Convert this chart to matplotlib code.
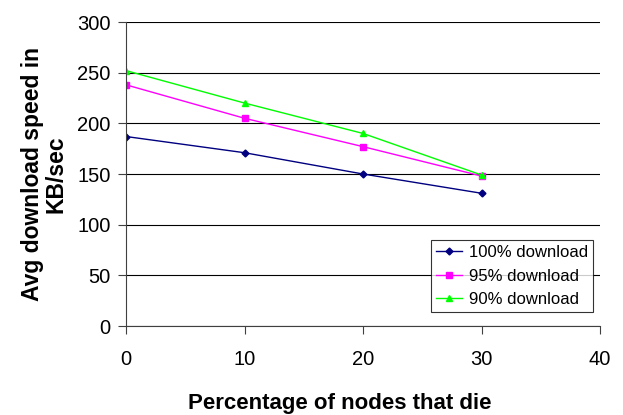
import matplotlib.pyplot as plt

plt.rcParams["font.family"] = ["Liberation Sans", "DejaVu Sans"]

pct_die = [0, 10, 20, 30]
speed_100 = [187, 171, 150, 131]
speed_95 = [238, 205, 177, 148]
speed_90 = [252, 220, 190, 149]
series_labels = ["100% download", "95% download", "90% download"]

fig = plt.figure(figsize=(6.23, 4.15), dpi=100)
ax = fig.add_axes([126 / 623, 1 - 326 / 415, (600 - 126) / 623, (326 - 22) / 415])

ax.plot(pct_die, speed_100, color="#000080", marker="D", markersize=3.5, lw=1, label=series_labels[0])
ax.plot(pct_die, speed_95, color="#ff00ff", marker="s", markersize=4.5, lw=1, label=series_labels[1])
ax.plot(pct_die, speed_90, color="#00ff00", marker="^", markersize=5, lw=1, label=series_labels[2])

ax.set_xlim(0, 40)
ax.set_ylim(0, 300)
ax.set_xticks(range(0, 41, 10))
ax.set_yticks(range(0, 301, 50))
ax.yaxis.grid(True, color="black", lw=0.8)
ax.set_axisbelow(True)
for s in ["top", "right"]:
    ax.spines[s].set_visible(False)
ax.spines["left"].set_color("#404040")
ax.spines["bottom"].set_color("#404040")
ax.tick_params(axis="both", direction="out", length=6, width=0.8, labelsize=14.5, colors="#404040", labelcolor="black")
ax.tick_params(axis="x", pad=11)
ax.tick_params(axis="y", pad=5)

ax.set_xlabel("Percentage of nodes that die", fontsize=16, fontweight="bold", labelpad=14)
ax.xaxis.set_label_coords(0.45, -0.22)
ax.set_ylabel("Avg download speed in\nKB/sec", fontsize=16.5, fontweight="bold", labelpad=7, linespacing=1.0)

leg = ax.legend(loc="lower right", bbox_to_anchor=(593 / 623, 1 - 312 / 415), bbox_transform=fig.transFigure,
                fontsize=12, frameon=True, fancybox=False, borderpad=0.3, labelspacing=0.5,
                handlelength=1.6, handletextpad=0.4, borderaxespad=0)
leg.get_frame().set_edgecolor("black")
leg.get_frame().set_linewidth(0.8)

fig.savefig("out.png", dpi=100)
